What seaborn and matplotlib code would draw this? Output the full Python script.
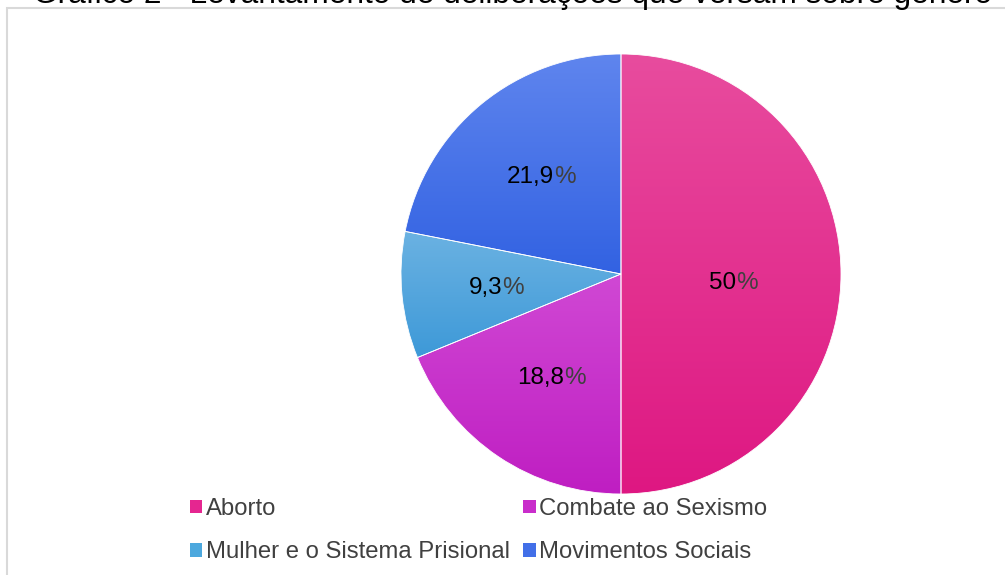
import numpy as np
import matplotlib
matplotlib.use("Agg")
import matplotlib.pyplot as plt
import seaborn as sns
from matplotlib.patches import Patch, Rectangle
from matplotlib.colors import LinearSegmentedColormap

sns.set_theme(style="white")
plt.rcParams['font.family'] = ['Liberation Sans', 'DejaVu Sans']

# ---- data ----
categories = ["Aborto", "Combate ao Sexismo", "Mulher e o Sistema Prisional", "Movimentos Sociais"]
values = [50.0, 18.8, 9.3, 21.9]
value_labels = ["50", "18,8", "9,3", "21,9"]
title = "Gráfico 2 - Levantamento de deliberações que versam sobre gênero"

# gradient colours (top, bottom) per slice
top_colors = ["#E84C9E", "#D048D4", "#6BB2E2", "#5F85EE"]
bottom_colors = ["#DE1782", "#BF1EC2", "#3D99D8", "#3262E2"]
mid_colors = ["#E52690", "#C92DCB", "#4CA8DE", "#426FE8"]

W, H = 1005, 575
fig = plt.figure(figsize=(W / 100, H / 100), dpi=100)
fig.patch.set_facecolor("white")

# outer frame (light grey, cut by the figure edges)
fig.add_artist(Rectangle((7 / W, -0.1), 1.2, 1 - 8 / H + 0.1, transform=fig.transFigure,
                         fill=False, edgecolor="#D9D9D9", linewidth=1.5))

# clipped title
fig.text(33 / W, 1 - 3 / H, title, fontsize=22.8, color="#000000",
         ha="left", va="baseline")

cx, cy, r = 621, 274, 220
ax = fig.add_axes([(cx - r) / W, 1 - (cy + r) / H, 2 * r / W, 2 * r / H])
wedges, _ = ax.pie(values, startangle=90, counterclock=False, colors=mid_colors,
                   radius=1.0, wedgeprops=dict(edgecolor="white", linewidth=0.6))
ax.set_xlim(-1, 1)
ax.set_ylim(-1, 1)
ax.set_aspect("equal")
ax.axis("off")

# vertical gradients clipped to each wedge
for w, ctop, cbot in zip(wedges, top_colors, bottom_colors):
    path = w.get_path()
    verts = w.get_transform().transform(path.vertices)
    verts = ax.transData.inverted().transform(verts)
    ymin, ymax = verts[:, 1].min(), verts[:, 1].max()
    xmin, xmax = verts[:, 0].min(), verts[:, 0].max()
    cmap = LinearSegmentedColormap.from_list("g", [cbot, ctop])
    grad = np.linspace(0, 1, 256).reshape(-1, 1)
    im = ax.imshow(grad, cmap=cmap, extent=[xmin, xmax, ymin, ymax], origin="lower",
                   aspect="auto", zorder=w.get_zorder() + 0.1)
    im.set_clip_path(w)
ax.set_xlim(-1, 1)
ax.set_ylim(-1, 1)

for w in wedges:
    w.set_zorder(3)
    w.set_facecolor("none")

# labels: number black, % dark grey, side by side
renderer = fig.canvas.get_renderer()
fs = 17.5
tmp = ax.text(0, 0, "%", fontsize=fs)
pct_w = tmp.get_window_extent(renderer).width
tmp.remove()
label_dist = [0.51, 0.57, 0.57, 0.57]
label_dy = [-0.04, 0.0, -0.01, 0.0]
for w, lab, d, dy in zip(wedges, value_labels, label_dist, label_dy):
    ang = np.deg2rad((w.theta1 + w.theta2) / 2)
    x, y = d * np.cos(ang), d * np.sin(ang) + dy
    px, py = ax.transData.transform((x, y))
    xd, yd = ax.transData.inverted().transform((px - pct_w / 2, py))
    num = ax.text(xd, yd, lab, fontsize=fs, color="black", ha="center",
                  va="center", zorder=5)
    num_w = num.get_window_extent(renderer).width
    xd2, _ = ax.transData.inverted().transform((px - pct_w / 2 + num_w / 2, py))
    num.set_x(xd2)
    num.set_ha("right")
    ax.annotate("%", xy=(1, 0), xycoords=num, ha="left", va="bottom",
                fontsize=fs, color="#404040", zorder=6)

# legend (row-wise order: Aborto, Combate / Mulher, Movimentos)
order = [0, 2, 1, 3]
handles = [Patch(facecolor=mid_colors[i], edgecolor="none") for i in order]
labels = [categories[i] for i in order]
leg = fig.legend(handles, labels, loc="upper left",
                 bbox_to_anchor=(190 / W, 1 - 498 / H), ncol=2, frameon=False,
                 fontsize=17.2, handlelength=0.52, handleheight=0.52,
                 handletextpad=0.15, columnspacing=0.55, labelspacing=0.9,
                 borderpad=0, borderaxespad=0)
for t in leg.get_texts():
    t.set_color("#404040")

fig.savefig("out.png", dpi=100, facecolor="white")
